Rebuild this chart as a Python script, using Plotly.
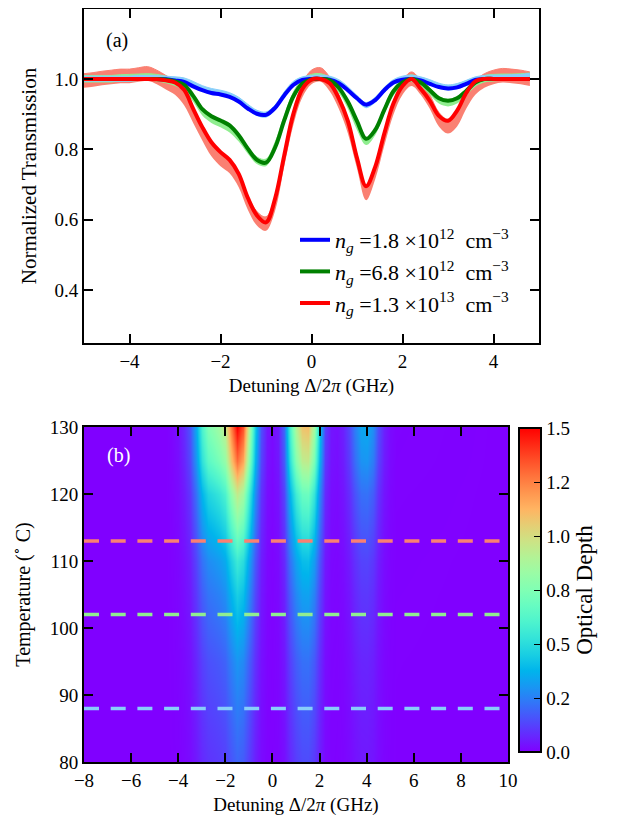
import numpy as np
import plotly.graph_objects as go

# ---------------- panel (a) data ----------------
detuning = [-5.0, -4.8, -4.6, -4.4, -4.2, -4.0, -3.8, -3.6, -3.4, -3.2,
            -3.0, -2.8, -2.6, -2.4, -2.2, -2.0, -1.8, -1.6, -1.4, -1.2,
            -1.0, -0.8, -0.6, -0.4, -0.2, 0.0, 0.2, 0.4, 0.6, 0.8,
            1.0, 1.2, 1.4, 1.6, 1.8, 2.0, 2.2, 2.4, 2.6, 2.8,
            3.0, 3.2, 3.4, 3.6, 3.8, 4.0, 4.2, 4.4, 4.6, 4.8]

fit_blue = [1.0, 1.0, 1.0, 1.0, 1.0, 1.0, 1.0, 1.0, 1.0, 0.999,
            0.996, 0.992, 0.979, 0.968, 0.96, 0.956, 0.949, 0.936, 0.916, 0.901,
            0.898, 0.918, 0.953, 0.983, 0.997, 1.0, 1.0, 0.998, 0.988, 0.968,
            0.945, 0.927, 0.94, 0.968, 0.99, 0.998, 1.0, 0.996, 0.986, 0.977,
            0.973, 0.976, 0.986, 0.997, 1.0, 1.0, 1.0, 1.0, 1.0, 1.0]
fit_green = [1.0, 1.0, 1.0, 1.0, 1.0, 1.0, 1.0, 1.0, 1.0, 0.998,
             0.993, 0.983, 0.952, 0.914, 0.894, 0.882, 0.868, 0.84, 0.802, 0.77,
             0.762, 0.805, 0.882, 0.95, 0.987, 0.999, 1.0, 0.996, 0.975, 0.935,
             0.88, 0.83, 0.855, 0.912, 0.965, 0.99, 1.0, 0.99, 0.968, 0.945,
             0.938, 0.945, 0.966, 0.99, 1.0, 1.0, 1.0, 1.0, 1.0, 1.0]
fit_red = [1.0, 1.0, 1.0, 1.0, 1.0, 1.0, 1.0, 1.0, 0.999, 0.996,
           0.99, 0.969, 0.915, 0.863, 0.82, 0.792, 0.77, 0.73, 0.662, 0.612,
           0.592, 0.66, 0.782, 0.9, 0.972, 0.998, 1.0, 0.988, 0.945, 0.88,
           0.775, 0.695, 0.75, 0.845, 0.93, 0.98, 1.0, 0.972, 0.938, 0.895,
           0.881, 0.91, 0.96, 0.993, 1.0, 1.0, 1.0, 1.0, 1.0, 1.0]

exp_blue = [1.0, 1.0, 1.0, 1.0, 1.0, 1.0, 1.002, 1.002, 1.002, 1.0,
            0.998, 0.995, 0.985, 0.973, 0.965, 0.96, 0.953, 0.94, 0.92, 0.903,
            0.898, 0.918, 0.955, 0.985, 0.998, 1.002, 1.003, 1.0, 0.99, 0.97,
            0.945, 0.925, 0.94, 0.968, 0.99, 1.0, 1.003, 0.998, 0.99, 0.98,
            0.975, 0.979, 0.988, 0.998, 1.002, 1.003, 1.003, 1.004, 1.005, 1.008]
exp_green = [1.0, 1.0, 1.0, 1.0, 1.002, 1.003, 1.004, 1.005, 1.003, 0.998,
             0.99, 0.977, 0.945, 0.906, 0.885, 0.873, 0.858, 0.832, 0.797, 0.768,
             0.762, 0.81, 0.885, 0.952, 0.99, 1.003, 1.005, 0.994, 0.97, 0.925,
             0.865, 0.822, 0.85, 0.91, 0.962, 0.99, 1.002, 0.99, 0.965, 0.94,
             0.932, 0.94, 0.962, 0.988, 1.0, 1.003, 1.004, 1.004, 1.005, 1.007]
exp_red = [0.995, 0.998, 1.002, 1.005, 1.008, 1.008, 1.012, 1.015, 1.005, 0.99,
           0.975, 0.945, 0.895, 0.845, 0.8, 0.772, 0.752, 0.712, 0.648, 0.603,
           0.588, 0.645, 0.77, 0.888, 0.968, 1.005, 1.012, 0.985, 0.935, 0.865,
           0.765, 0.675, 0.735, 0.83, 0.918, 0.975, 1.0, 0.975, 0.935, 0.885,
           0.865, 0.885, 0.935, 0.975, 0.995, 1.005, 1.01, 1.008, 1.005, 1.0]
exp_noise = {"blue": 0.008, "green": 0.01, "red": 0.02}

legend_labels = [
    "<i>n</i><sub><i>g</i></sub> =1.8 ×10<sup>12</sup>  cm<sup>−3</sup>",
    "<i>n</i><sub><i>g</i></sub> =6.8 ×10<sup>12</sup>  cm<sup>−3</sup>",
    "<i>n</i><sub><i>g</i></sub> =1.3 ×10<sup>13</sup>  cm<sup>−3</sup>",
]

# ---------------- panel (b) data ----------------
od_detuning = [-8.0, -4.5, -4.25, -4.0, -3.75, -3.5, -3.25, -3.0, -2.75, -2.5,
               -2.25, -2.0, -1.75, -1.5, -1.25, -1.0, -0.75, -0.5, -0.25, 0.0,
               0.25, 0.5, 0.75, 1.0, 1.25, 1.5, 1.75, 2.0, 2.25, 2.5,
               2.75, 3.0, 3.25, 3.5, 3.75, 4.0, 4.25, 4.5, 4.75, 5.0,
               5.25, 10.0]
od_at_130 = [0.0, 0.0, 0.01, 0.03, 0.08, 0.16, 0.35, 0.6, 0.75, 0.8,
             0.85, 0.95, 1.25, 1.5, 1.35, 0.9, 0.45, 0.15, 0.04, 0.02,
             0.05, 0.2, 0.6, 0.9, 1.08, 1.1, 0.85, 0.4, 0.12, 0.04,
             0.03, 0.06, 0.13, 0.25, 0.34, 0.35, 0.28, 0.15, 0.06, 0.02,
             0.005, 0.0]
temperatures = [80, 85, 90, 95, 100, 105, 110, 115, 120, 125, 130]
temp_scale = [0.13, 0.15, 0.175, 0.2, 0.25, 0.3, 0.37, 0.5, 0.63, 0.86, 1.0]

marked_temps = [113, 102, 88]
marked_colors = ["#FA8072", "#90EE90", "#87CEFA"]

cbar_vals = [0.0, 0.25, 0.5, 0.75, 1.0, 1.25, 1.5]
cbar_text = ["0.0", "0.2", "0.5", "0.8", "1.0", "1.2", "1.5"]

# ---------------- styling ----------------
FONT = "Liberation Serif, Times New Roman, DejaVu Serif, serif"
OFF = 8                      # page body margin
W, H = 623 - OFF, 819 - OFF  # figure size so that it fills the window


def fx(px):
    return (px - OFF) / W


def fy(py):
    return 1 - (py - OFF) / H


def rainbow(t):
    r = min(1.0, abs(2 * t - 0.5))
    g = np.sin(np.pi * t)
    b = np.cos(np.pi * t / 2)
    return "rgb(%d,%d,%d)" % (round(255 * r), round(255 * g), round(255 * max(b, 0)))


rainbow_scale = [[i / 20, rainbow(i / 20)] for i in range(21)]

fig = go.Figure()

light = {"blue": "#87CEFA", "green": "#90EE90", "red": "#FA8072"}
for name, arr in [("red", exp_red), ("green", exp_green), ("blue", exp_blue)]:
    a = np.array(arr)
    s = exp_noise[name]
    fig.add_trace(go.Scatter(x=detuning, y=a - s, mode="lines",
                             line=dict(width=0, color=light[name], shape="spline"),
                             showlegend=False, hoverinfo="skip",
                             xaxis="x", yaxis="y"))
    fig.add_trace(go.Scatter(x=detuning, y=a + s, mode="lines", fill="tonexty",
                             fillcolor=light[name],
                             line=dict(width=1, color=light[name], shape="spline"),
                             showlegend=False, hoverinfo="skip",
                             xaxis="x", yaxis="y"))

for i, (arr, col, lab) in enumerate([(fit_blue, "#0000FF", legend_labels[0]),
                                     (fit_green, "#008000", legend_labels[1]),
                                     (fit_red, "#FF0000", legend_labels[2])]):
    fig.add_trace(go.Scatter(x=detuning, y=arr, mode="lines", name=lab,
                             legendgroup="g%d" % i,
                             line=dict(width=4, color=col, shape="spline"),
                             xaxis="x", yaxis="y"))

z = np.outer(np.array(temp_scale), np.array(od_at_130))
fig.add_trace(go.Heatmap(
    x=od_detuning, y=temperatures, z=z, zsmooth="best",
    zmin=0, zmax=1.5, colorscale=rainbow_scale, xaxis="x2", yaxis="y2",
    showscale=True,
    colorbar=dict(x=fx(519), xanchor="left", xpad=0, ypad=0,
                  y=fy(428), yanchor="top", len=324 / H, lenmode="fraction",
                  thickness=22, outlinewidth=2, outlinecolor="black",
                  ticks="inside", ticklen=8, tickcolor="black", tickwidth=1.2,
                  tickvals=cbar_vals, ticktext=cbar_text,
                  tickfont=dict(family=FONT, size=19, color="black"),
                  title=dict(text="Optical Depth", side="right",
                             font=dict(family=FONT, size=23, color="black")))))

for t, c in zip(marked_temps, marked_colors):
    fig.add_trace(go.Scatter(x=[-8, 10], y=[t, t], mode="lines",
                             line=dict(color=c, width=3.5, dash="15px,11.7px"),
                             showlegend=False, hoverinfo="skip",
                             xaxis="x2", yaxis="y2"))

axis_common = dict(showline=True, linewidth=2, linecolor="black", mirror="ticks",
                   ticks="inside", ticklen=9, tickwidth=1.5, tickcolor="black",
                   showgrid=False, zeroline=False, automargin=False,
                   tickfont=dict(family=FONT, size=19, color="black"))

fig.update_layout(
    width=W, height=H, margin=dict(l=0, r=0, t=0, b=0),
    paper_bgcolor="white", plot_bgcolor="white",
    font=dict(family=FONT, size=19, color="black"),
    xaxis=dict(domain=[fx(84), fx(539)], anchor="y", range=[-5, 5],
               tickvals=[-4, -2, 0, 2, 4], ticktext=["−4", "−2", "0", "2", "4"],
               title=dict(text="Detuning Δ/2<i>π</i> (GHz)", standoff=8,
                          font=dict(family=FONT, size=19)),
               **axis_common),
    yaxis=dict(domain=[fy(343), fy(9)], anchor="x", range=[0.249, 1.199],
               tickvals=[0.4, 0.6, 0.8, 1.0], ticktext=["0.4", "0.6", "0.8", "1.0"],
               title=dict(text="Normalized Transmission", standoff=12,
                          font=dict(family=FONT, size=21)),
               **axis_common),
    xaxis2=dict(domain=[fx(84), fx(508)], anchor="y2", range=[-8, 10],
                tickvals=[-8, -6, -4, -2, 0, 2, 4, 6, 8, 10],
                ticktext=["−8", "−6", "−4", "−2", "0", "2", "4", "6", "8", "10"],
                title=dict(text="Detuning Δ/2<i>π</i> (GHz)", standoff=8,
                           font=dict(family=FONT, size=19)),
                **axis_common),
    yaxis2=dict(domain=[fy(762), fy(427)], anchor="x2", range=[80, 130],
                tickvals=[80, 90, 100, 110, 120, 130],
                title=dict(text="Temperature (<sup>∘</sup> C)", standoff=14,
                           font=dict(family=FONT, size=20)),
                **axis_common),
    legend=dict(x=fx(295), y=fy(219), xanchor="left", yanchor="top",
                bgcolor="rgba(0,0,0,0)", borderwidth=0, traceorder="normal",
                font=dict(family=FONT, size=22, color="black"),
                tracegroupgap=6),
    annotations=[
        dict(text="(a)", x=-4.55, y=1.11, xref="x", yref="y", xanchor="left",
             yanchor="middle", showarrow=False,
             font=dict(family=FONT, size=20, color="black")),
        dict(text="(b)", x=-7.12, y=125.8, xref="x2", yref="y2", xanchor="left",
             yanchor="middle", showarrow=False,
             font=dict(family=FONT, size=20, color="white")),
    ],
)

fig.write_html("out.html")
